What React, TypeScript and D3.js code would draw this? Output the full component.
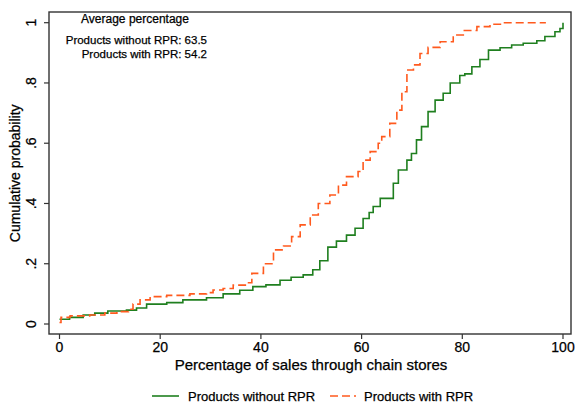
import React from 'react';
import * as d3 from 'd3';

// cumulative distribution (share of sales %, probability)
const withoutX = [0, 2, 4.7, 7, 9.6, 13.3, 15.3, 17.3, 21.3, 24.5, 29.2, 32.5, 35.8, 38.4, 41, 43.8, 46, 48.4, 50.3, 51.7, 53.3, 55, 57, 58.7, 60.3, 61.5, 62.3, 63.7, 66.3, 67.3, 69, 69.9, 70.9, 71.9, 73.2, 74.6, 76.2, 77.6, 79.5, 80.5, 81.9, 83.5, 85.2, 87.5, 89.8, 92.1, 94.8, 96.4, 98.4, 99.4, 100];
const withoutY = [0.016, 0.022, 0.03, 0.036, 0.043, 0.046, 0.053, 0.066, 0.071, 0.08, 0.087, 0.1, 0.112, 0.124, 0.13, 0.145, 0.155, 0.163, 0.18, 0.21, 0.255, 0.275, 0.295, 0.318, 0.35, 0.37, 0.39, 0.417, 0.467, 0.511, 0.544, 0.566, 0.611, 0.655, 0.705, 0.743, 0.766, 0.8, 0.825, 0.83, 0.854, 0.878, 0.909, 0.917, 0.926, 0.932, 0.94, 0.954, 0.97, 0.981, 1.0];

const withX = [0, 0.3, 2.1, 6, 9, 11.4, 13.7, 14.6, 16, 18, 21.3, 25.9, 29.2, 30.5, 32.5, 34.5, 37.2, 38.2, 40.5, 42.5, 44.5, 46.1, 47.8, 49.8, 51.4, 53.7, 55.4, 57, 59.3, 60.3, 61.7, 63.3, 64, 65.6, 67, 68, 69, 70.3, 71.6, 73.2, 75.6, 78.2, 80.2, 82.9, 85.5, 88, 96.6];
const withY = [0.005, 0.022, 0.027, 0.03, 0.036, 0.041, 0.049, 0.066, 0.08, 0.091, 0.095, 0.1, 0.104, 0.113, 0.118, 0.129, 0.137, 0.168, 0.2, 0.246, 0.259, 0.29, 0.329, 0.362, 0.4, 0.428, 0.461, 0.489, 0.506, 0.544, 0.572, 0.6, 0.622, 0.666, 0.71, 0.771, 0.843, 0.86, 0.898, 0.918, 0.937, 0.959, 0.974, 0.987, 0.995, 1.0, 1.0];

const xTicks = [0, 20, 40, 60, 80, 100];
const yTicks = [0, 0.2, 0.4, 0.6, 0.8, 1];
const yTickLabels = ['0', '.2', '.4', '.6', '.8', '1'];

const seriesNames = ['Products without RPR', 'Products with RPR'];
const averages = [63.5, 54.2];

const green = '#1f7f1f';
const orange = '#ff5a1e';
const font = 'Liberation Sans, Arial, sans-serif';

export default function App() {
  const width = 576;
  const height = 404;
  const frame = { left: 49, right: 571, top: 12, bottom: 334 };

  const x = d3.scaleLinear().domain([0, 100]).range([59.5, 563]);
  const y = d3.scaleLinear().domain([0, 1]).range([324, 22.7]);

  const line = d3.line<[number, number]>()
    .x(d => x(d[0]))
    .y(d => y(d[1]))
    .curve(d3.curveStepAfter);

  const withoutPts = withoutX.map((v, i) => [v, withoutY[i]] as [number, number]);
  const withPts = withX.map((v, i) => [v, withY[i]] as [number, number]);

  const txt = { fill: '#000', stroke: '#000', strokeWidth: 0.25 };

  return (
    <svg width={width} height={height} style={{ position: 'absolute', left: 0, top: 0, background: '#fff' }} fontFamily={font}>
      <rect x={frame.left} y={frame.top} width={frame.right - frame.left} height={frame.bottom - frame.top}
        fill="none" stroke="#333" strokeWidth={1.4} />

      {/* y axis */}
      {yTicks.map((t, i) => (
        <g key={'y' + i}>
          <line x1={frame.left - 5} x2={frame.left} y1={y(t)} y2={y(t)} stroke="#333" strokeWidth={1.2} />
          <text transform={`translate(${frame.left - 13}, ${y(t)}) rotate(-90)`} textAnchor="middle"
            fontSize={14} {...txt}>{yTickLabels[i]}</text>
        </g>
      ))}
      <text transform={`translate(20, ${(y(0) + y(1)) / 2}) rotate(-90)`} textAnchor="middle" fontSize={14} {...txt}>
        Cumulative probability
      </text>

      {/* x axis */}
      {xTicks.map(t => (
        <g key={'x' + t}>
          <line x1={x(t)} x2={x(t)} y1={frame.bottom} y2={frame.bottom + 5} stroke="#333" strokeWidth={1.2} />
          <text x={x(t)} y={frame.bottom + 18} textAnchor="middle" fontSize={14} {...txt}>{t}</text>
        </g>
      ))}
      <text x={311} y={370} textAnchor="middle" fontSize={15} {...txt}>
        Percentage of sales through chain stores
      </text>

      {/* curves */}
      <path d={line(withoutPts) || ''} fill="none" stroke={green} strokeWidth={1.6} />
      <path d={line(withPts) || ''} fill="none" stroke={orange} strokeWidth={1.6} strokeDasharray="8,4" />

      {/* note */}
      <text x={135} y={23} textAnchor="middle" fontSize={12} {...txt}>Average percentage</text>
      <text x={207} y={44} textAnchor="end" fontSize={11.5} {...txt}>{seriesNames[0]}: {averages[0]}</text>
      <text x={207} y={58} textAnchor="end" fontSize={11.5} {...txt}>{seriesNames[1]}: {averages[1]}</text>

      {/* legend */}
      <line x1={152} x2={179} y1={396} y2={396} stroke={green} strokeWidth={1.6} />
      <text x={188} y={401} fontSize={13} {...txt}>{seriesNames[0]}</text>
      <line x1={330} x2={356} y1={396} y2={396} stroke={orange} strokeWidth={1.6} strokeDasharray="8,4" />
      <text x={364} y={401} fontSize={13} {...txt}>{seriesNames[1]}</text>
    </svg>
  );
}
